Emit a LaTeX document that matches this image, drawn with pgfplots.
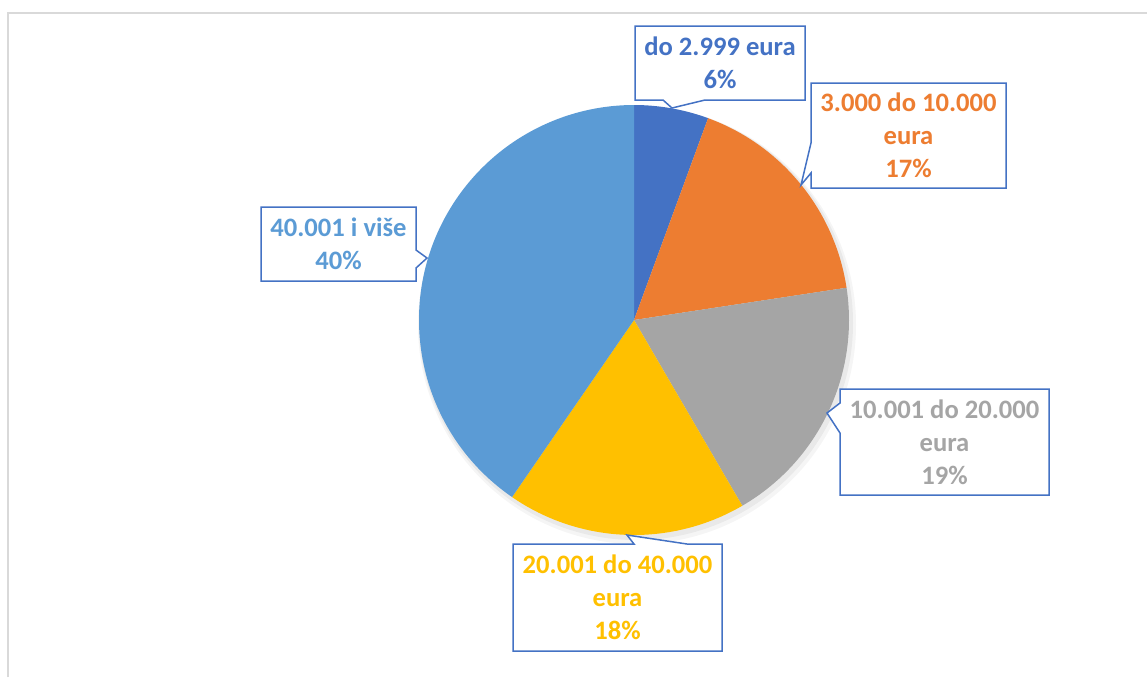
\documentclass[border=0pt]{standalone}
\usepackage{pgfplots}
\usepackage{pgfplotstable}
\pgfplotsset{compat=1.18}
\usepackage{fontspec}
\setmainfont{Carlito}
\definecolor{sA}{HTML}{4472C4}
\definecolor{sB}{HTML}{ED7D31}
\definecolor{sC}{HTML}{A5A5A5}
\definecolor{sD}{HTML}{FFC000}
\definecolor{sE}{HTML}{5B9BD5}
\definecolor{frame}{HTML}{D9D9D9}
\pgfplotstableread{
idx value
0 5.6
1 17.0
2 19.0
3 18.0
4 40.4
}\piedata
\begin{document}
\begin{tikzpicture}
\begin{axis}[scale only axis, width=573.5pt, height=338.5pt,
  xmin=0, xmax=1147, ymin=0, ymax=677, y dir=reverse,
  hide axis, clip=false]
\pgfplotsextra{
  % chart frame (top and left edges visible)
  \draw[frame, line width=1pt] (axis cs:8,677) -- (axis cs:8,12.5) -- (axis cs:1147,12.5);
  % soft shadow
  \fill[black, opacity=0.04] (axis cs:637,325) circle[radius=109.5pt];
  \fill[black, opacity=0.05] (axis cs:636,323) circle[radius=108.5pt];
  % pie wedges
  \gdef\cum{0}
  \foreach \i/\col in {0/sA,1/sB,2/sC,3/sD,4/sE}{
    \pgfplotstablegetelem{\i}{value}\of\piedata
    \pgfmathsetmacro\a{90-3.6*\cum}
    \pgfmathsetmacro\b{90-3.6*(\cum+\pgfplotsretval)}
    \fill[\col] (axis cs:634,320) -- ++(\a:107.5pt) arc[start angle=\a, end angle=\b, radius=107.5pt] -- cycle;
    \pgfmathsetmacro\newcum{\cum+\pgfplotsretval}
    \global\let\cum\newcum
  }
  % callouts
  \tikzset{callout/.style={draw=sA, fill=white, line width=0.75pt, line join=miter}}
  \tikzset{lbl/.style={align=center, font=\fontsize{13.3}{16.5}\selectfont\bfseries}}
  \path[callout] (axis cs:635,26) -- (axis cs:805,26) -- (axis cs:805,100) -- (axis cs:705,100)
     -- (axis cs:672,108) -- (axis cs:663,100) -- (axis cs:635,100) -- cycle;
  \node[lbl, text=sA] at (axis cs:720,63) {do 2.999 eura\\6\%};
  \path[callout] (axis cs:811,83) -- (axis cs:1006,83) -- (axis cs:1006,188) -- (axis cs:811,188)
     -- (axis cs:811,173) -- (axis cs:801,185) -- (axis cs:811,143) -- cycle;
  \node[lbl, text=sB] at (axis cs:908.5,135.5) {3.000 do 10.000\\eura\\17\%};
  \path[callout] (axis cs:261,207) -- (axis cs:416,207) -- (axis cs:416,250) -- (axis cs:427,258)
     -- (axis cs:416,268) -- (axis cs:416,281) -- (axis cs:261,281) -- cycle;
  \node[lbl, text=sE] at (axis cs:338.5,244) {40.001 i više\\40\%};
  \path[callout] (axis cs:840,389) -- (axis cs:1049,389) -- (axis cs:1049,495) -- (axis cs:840,495)
     -- (axis cs:840,433) -- (axis cs:827,413) -- (axis cs:840,403) -- cycle;
  \node[lbl, text=sC] at (axis cs:944.5,442) {10.001 do 20.000\\eura\\19\%};
  \path[callout] (axis cs:513,544) -- (axis cs:634,544) -- (axis cs:627,535) -- (axis cs:687,544)
     -- (axis cs:722,544) -- (axis cs:722,651) -- (axis cs:513,651) -- cycle;
  \node[lbl, text=sD] at (axis cs:617.5,597.5) {20.001 do 40.000\\eura\\18\%};
}
\end{axis}
\pgfresetboundingbox
\useasboundingbox (0,0) rectangle (573.5pt,338.5pt);
\end{tikzpicture}
\end{document}
